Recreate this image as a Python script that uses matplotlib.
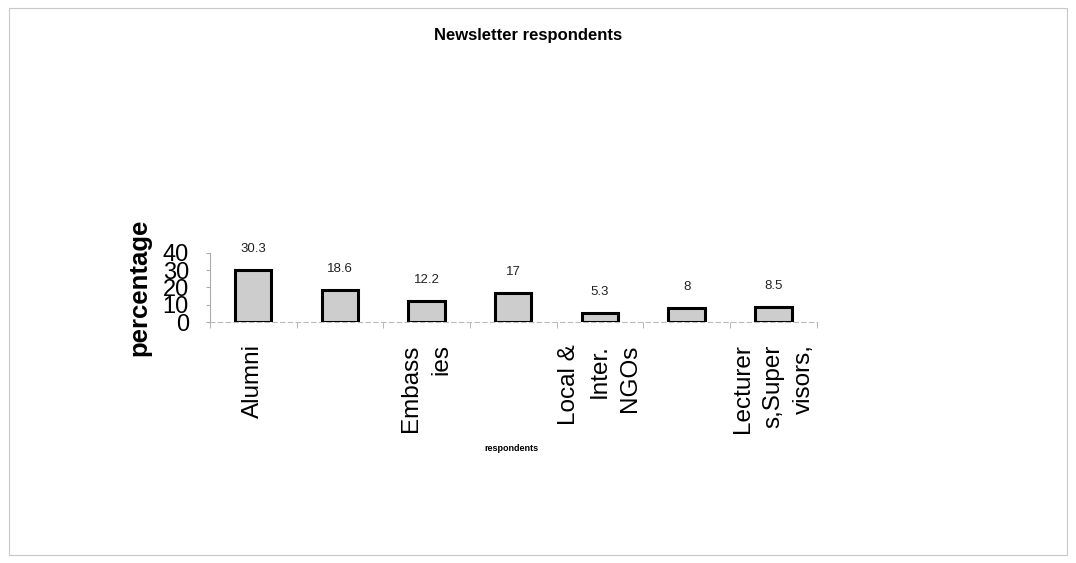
import numpy as np
import matplotlib.pyplot as plt
from matplotlib.patches import Rectangle

plt.rcParams['font.family'] = ['Liberation Sans', 'DejaVu Sans']

# data
waarden = [30.3, 18.6, 12.2, 17, 5.3, 8, 8.5]
labels = ['Alumni', '', 'Embass\nies', '', 'Local &\nInter.\nNGOs', '', 'Lecturer\ns,Super\nvisors,']
y_ticks = [0, 10, 20, 30, 40]

fig = plt.figure(figsize=(10.76, 5.63), dpi=100)
ax = fig.add_axes([0.195, 0.428, 0.564, 0.123])

x = np.arange(len(waarden))
staven = ax.bar(x, waarden, width=0.42, color='#cdcdcd', edgecolor='black', linewidth=2.2, zorder=3)

for xi, v in zip(x, waarden):
    ax.annotate(f'{v:g}', (xi, v), xytext=(0, 15), textcoords='offset points',
                ha='center', va='center', fontsize=9.5, color='#222222')

ax.set_xlim(-0.5, len(waarden) - 0.5)
ax.set_ylim(0, 40)

ax.set_yticks(y_ticks)
ax.set_yticklabels([str(t) for t in y_ticks], fontsize=17)
ax.tick_params(axis='y', length=3, color='#aaaaaa', pad=12)

# categories: labels at centers, tick marks between categories
ax.set_xticks(x)
ax.set_xticklabels(labels, rotation=90, fontsize=17.5, va='top', ha='center',
                   multialignment='right', linespacing=1.5)
ax.tick_params(axis='x', which='major', length=0, pad=16)
ax.set_xticks(np.arange(-0.5, len(waarden)), minor=True)
ax.tick_params(axis='x', which='minor', length=4, color='#aaaaaa', direction='out')

for s in ['top', 'right']:
    ax.spines[s].set_visible(False)
ax.spines['left'].set_color('#aaaaaa')
ax.spines['left'].set_linewidth(0.8)
ax.spines['bottom'].set_color('#bbbbbb')
ax.spines['bottom'].set_linewidth(0.8)
ax.spines['bottom'].set_linestyle((0, (4, 3)))

ax.set_ylabel('percentage', fontsize=18.5, fontweight='bold')
ax.yaxis.set_label_coords(-0.097, 0.5)

fig.text(0.4905, 0.937, 'Newsletter respondents', ha='center', va='center',
         fontsize=12, fontweight='bold')
fig.text(0.4755, 0.203, 'respondents', ha='center', va='center',
         fontsize=6.5, fontweight='bold')

fig.patches.append(Rectangle((0.008, 0.014), 0.984, 0.972, transform=fig.transFigure,
                             fill=False, edgecolor='#c8c8c8', linewidth=0.8))

fig.savefig('out.png', dpi=100)
